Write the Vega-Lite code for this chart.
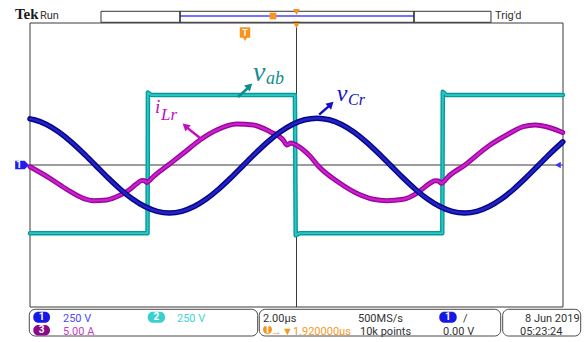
{
  "$schema": "https://vega.github.io/schema/vega-lite/v6.json",
  "width": 533,
  "height": 284,
  "autosize": {"type": "none"},
  "padding": {"left": 30, "top": 23, "right": 24, "bottom": 35},
  "background": "white",
  "config": {"view": {"stroke": null}, "text": {"font": "Roboto"}},
  "datasets": {
    "vab": [
      {"t": -10.0, "v": -1.92}, {"t": -5.59, "v": -1.92}, {"t": -5.575, "v": 2.04}, {"t": -5.45, "v": 1.97},
      {"t": -0.06, "v": 1.97}, {"t": -0.03, "v": -1.98}, {"t": 0.12, "v": -1.92}, {"t": 5.47, "v": -1.92},
      {"t": 5.49, "v": 2.06}, {"t": 5.62, "v": 1.97}, {"t": 10.0, "v": 1.97}
    ],
    "vcr": [
      {"t": -10.0, "v": 1.3}, {"t": -9.841, "v": 1.275}, {"t": -9.38, "v": 1.141}, {"t": -8.919, "v": 0.929},
      {"t": -8.458, "v": 0.653}, {"t": -7.996, "v": 0.331}, {"t": -7.535, "v": -0.015}, {"t": -7.074, "v": -0.361},
      {"t": -6.613, "v": -0.683}, {"t": -6.151, "v": -0.959}, {"t": -5.69, "v": -1.171}, {"t": -5.229, "v": -1.305},
      {"t": -4.768, "v": -1.35}, {"t": -4.306, "v": -1.305}, {"t": -3.845, "v": -1.171}, {"t": -3.384, "v": -0.959},
      {"t": -2.923, "v": -0.683}, {"t": -2.461, "v": -0.361}, {"t": -2.0, "v": -0.015}, {"t": -1.539, "v": 0.331},
      {"t": -1.078, "v": 0.653}, {"t": -0.616, "v": 0.929}, {"t": -0.155, "v": 1.141}, {"t": 0.306, "v": 1.275},
      {"t": 0.768, "v": 1.32}, {"t": 1.229, "v": 1.275}, {"t": 1.69, "v": 1.141}, {"t": 2.151, "v": 0.929},
      {"t": 2.613, "v": 0.653}, {"t": 3.074, "v": 0.331}, {"t": 3.535, "v": -0.015}, {"t": 3.996, "v": -0.361},
      {"t": 4.458, "v": -0.683}, {"t": 4.919, "v": -0.959}, {"t": 5.38, "v": -1.171}, {"t": 5.841, "v": -1.305},
      {"t": 6.303, "v": -1.35}, {"t": 6.764, "v": -1.305}, {"t": 7.225, "v": -1.171}, {"t": 7.686, "v": -0.959},
      {"t": 8.148, "v": -0.683}, {"t": 8.609, "v": -0.361}, {"t": 9.07, "v": -0.015}, {"t": 9.531, "v": 0.331},
      {"t": 9.993, "v": 0.653}
    ],
    "ilr": [
      {"t": -10.0, "v": -0.05}, {"t": -9.25, "v": -0.375}, {"t": -8.62, "v": -0.685}, {"t": -8.0, "v": -0.94},
      {"t": -7.625, "v": -1.006}, {"t": -7.12, "v": -0.986}, {"t": -6.747, "v": -0.893}, {"t": -6.371, "v": -0.752},
      {"t": -5.996, "v": -0.53}, {"t": -5.81, "v": -0.44}, {"t": -5.7, "v": -0.445}, {"t": -5.62, "v": -0.49},
      {"t": -5.52, "v": -0.44}, {"t": -5.373, "v": -0.33}, {"t": -4.81, "v": 0.0}, {"t": -4.248, "v": 0.33},
      {"t": -3.621, "v": 0.704}, {"t": -2.994, "v": 0.986}, {"t": -2.244, "v": 1.155}, {"t": -1.621, "v": 1.127},
      {"t": -0.994, "v": 0.938}, {"t": -0.495, "v": 0.704}, {"t": -0.356, "v": 0.565}, {"t": -0.206, "v": 0.62},
      {"t": -0.02, "v": 0.563}, {"t": 0.507, "v": 0.25}, {"t": 0.818, "v": -0.028}, {"t": 1.632, "v": -0.515},
      {"t": 2.259, "v": -0.797}, {"t": 2.882, "v": -0.966}, {"t": 3.385, "v": -1.006}, {"t": 4.007, "v": -0.966},
      {"t": 4.51, "v": -0.797}, {"t": 5.009, "v": -0.515}, {"t": 5.197, "v": -0.442}, {"t": 5.32, "v": -0.45},
      {"t": 5.448, "v": -0.515}, {"t": 5.55, "v": -0.45}, {"t": 5.636, "v": -0.375}, {"t": 6.323, "v": 0.0},
      {"t": 7.261, "v": 0.563}, {"t": 7.887, "v": 0.845}, {"t": 8.51, "v": 1.08}, {"t": 8.949, "v": 1.127},
      {"t": 9.512, "v": 1.05}, {"t": 9.989, "v": 0.915}
    ],
    "major_t": [{"t": -8}, {"t": -6}, {"t": -4}, {"t": -2}, {"t": 2}, {"t": 4}, {"t": 6}, {"t": 8}],
    "major_v": [{"v": -3}, {"v": -2}, {"v": -1}, {"v": 1}, {"v": 2}, {"v": 3}],
    "minor_t": [
      {"t": -9.6}, {"t": -9.2}, {"t": -8.8}, {"t": -8.4}, {"t": -8}, {"t": -7.6}, {"t": -7.2}, {"t": -6.8},
      {"t": -6.4}, {"t": -6}, {"t": -5.6}, {"t": -5.2}, {"t": -4.8}, {"t": -4.4}, {"t": -4}, {"t": -3.6},
      {"t": -3.2}, {"t": -2.8}, {"t": -2.4}, {"t": -2}, {"t": -1.6}, {"t": -1.2}, {"t": -0.8}, {"t": -0.4},
      {"t": 0}, {"t": 0.4}, {"t": 0.8}, {"t": 1.2}, {"t": 1.6}, {"t": 2}, {"t": 2.4}, {"t": 2.8},
      {"t": 3.2}, {"t": 3.6}, {"t": 4}, {"t": 4.4}, {"t": 4.8}, {"t": 5.2}, {"t": 5.6}, {"t": 6},
      {"t": 6.4}, {"t": 6.8}, {"t": 7.2}, {"t": 7.6}, {"t": 8}, {"t": 8.4}, {"t": 8.8}, {"t": 9.2}, {"t": 9.6}
    ],
    "minor_v": [
      {"v": -3.8}, {"v": -3.6}, {"v": -3.4}, {"v": -3.2}, {"v": -3}, {"v": -2.8}, {"v": -2.6}, {"v": -2.4},
      {"v": -2.2}, {"v": -2}, {"v": -1.8}, {"v": -1.6}, {"v": -1.4}, {"v": -1.2}, {"v": -1}, {"v": -0.8},
      {"v": -0.6}, {"v": -0.4}, {"v": -0.2}, {"v": 0}, {"v": 0.2}, {"v": 0.4}, {"v": 0.6}, {"v": 0.8},
      {"v": 1}, {"v": 1.2}, {"v": 1.4}, {"v": 1.6}, {"v": 1.8}, {"v": 2}, {"v": 2.2}, {"v": 2.4},
      {"v": 2.6}, {"v": 2.8}, {"v": 3}, {"v": 3.2}, {"v": 3.4}, {"v": 3.6}, {"v": 3.8}
    ],
    "readout": [
      {"t": -9.625, "v": 4.113, "s": "Run", "ch": "info"},
      {"t": 7.448, "v": 4.099, "s": "Trig'd", "ch": "info"},
      {"t": -8.762, "v": -4.423, "s": "250 V", "ch": "ch1"},
      {"t": -4.484, "v": -4.423, "s": "250 V", "ch": "ch2"},
      {"t": -8.762, "v": -4.789, "s": "5.00 A", "ch": "ch3"},
      {"t": -1.257, "v": -4.423, "s": "2.00µs", "ch": "info"},
      {"t": -0.957, "v": -4.789, "s": "→▼1.920000µs", "ch": "trig"},
      {"t": 2.308, "v": -4.423, "s": "500MS/s", "ch": "info"},
      {"t": 2.383, "v": -4.789, "s": "10k points", "ch": "info"},
      {"t": 6.248, "v": -4.423, "s": "/", "ch": "info"},
      {"t": 5.497, "v": -4.789, "s": "0.00 V", "ch": "info"},
      {"t": 8.574, "v": -4.423, "s": "8 Jun  2019", "ch": "info"},
      {"t": 8.386, "v": -4.789, "s": "05:23:24", "ch": "info"}
    ],
    "badges": [
      {"t": -9.876, "t2": -9.25, "v": -4.132, "v2": -4.442, "tm": -9.563, "vm": -4.287, "ch": "ch1", "s": "1"},
      {"t": -5.583, "t2": -4.934, "v": -4.132, "v2": -4.442, "tm": -5.2585, "vm": -4.287, "ch": "ch2", "s": "2"},
      {"t": -9.876, "t2": -9.25, "v": -4.507, "v2": -4.803, "tm": -9.563, "vm": -4.655, "ch": "ch3", "s": "3"},
      {"t": 5.358, "t2": 6.011, "v": -4.132, "v2": -4.442, "tm": 5.6845, "vm": -4.287, "ch": "ch1", "s": "1"},
      {"t": -1.257, "t2": -0.92, "v": -4.507, "v2": -4.761, "tm": -1.0885, "vm": -4.634, "ch": "trig", "s": "T"}
    ]
  },
  "encoding": {
    "x": {"field": "t", "type": "quantitative", "scale": {"domain": [-10, 10], "nice": false, "zero": false}, "axis": null},
    "y": {"field": "v", "type": "quantitative", "scale": {"domain": [-4, 4], "nice": false, "zero": false}, "axis": null}
  },
  "layer": [
    {
      "data": {"values": [{"t": -10, "v": -4, "t2": 10, "v2": 4}]},
      "mark": {"type": "rect", "filled": false, "stroke": "#3a3a3a", "strokeWidth": 1},
      "encoding": {"x2": {"field": "t2"}, "y2": {"field": "v2"}}
    },
    {
      "data": {"name": "major_t"},
      "mark": {"type": "rule", "stroke": "#777777", "strokeWidth": 1, "strokeDash": [1, 6.1]},
      "encoding": {"y": {"datum": 4}, "y2": {"datum": -4}}
    },
    {
      "data": {"name": "major_v"},
      "mark": {"type": "rule", "stroke": "#777777", "strokeWidth": 1, "strokeDash": [1, 9.66]},
      "encoding": {"x": {"datum": -10}, "x2": {"datum": 10}}
    },
    {
      "data": {"values": [{"t": 0, "v": -4, "t2": 0, "v2": 4}, {"t": -10, "v": 0, "t2": 10, "v2": 0}]},
      "mark": {"type": "rule", "stroke": "#3a3a3a", "strokeWidth": 1},
      "encoding": {"x2": {"field": "t2"}, "y2": {"field": "v2"}}
    },
    {
      "data": {"name": "minor_t"},
      "mark": {"type": "rule", "stroke": "#3a3a3a", "strokeWidth": 1},
      "encoding": {"y": {"datum": 4}, "y2": {"datum": 3.915}}
    },
    {
      "data": {"name": "minor_t"},
      "mark": {"type": "rule", "stroke": "#3a3a3a", "strokeWidth": 1},
      "encoding": {"y": {"datum": -4}, "y2": {"datum": -3.915}}
    },
    {
      "data": {"name": "minor_t"},
      "mark": {"type": "rule", "stroke": "#3a3a3a", "strokeWidth": 1},
      "encoding": {"y": {"datum": -0.085}, "y2": {"datum": 0.085}}
    },
    {
      "data": {"name": "minor_v"},
      "mark": {"type": "rule", "stroke": "#3a3a3a", "strokeWidth": 1},
      "encoding": {"x": {"datum": -10}, "x2": {"datum": -9.887}}
    },
    {
      "data": {"name": "minor_v"},
      "mark": {"type": "rule", "stroke": "#3a3a3a", "strokeWidth": 1},
      "encoding": {"x": {"datum": 10}, "x2": {"datum": 9.887}}
    },
    {
      "data": {"name": "minor_v"},
      "mark": {"type": "rule", "stroke": "#3a3a3a", "strokeWidth": 1},
      "encoding": {"x": {"datum": -0.113}, "x2": {"datum": 0.113}}
    },
    {
      "data": {"name": "vab"},
      "mark": {"type": "line", "stroke": "#039a9a", "strokeWidth": 4.5, "strokeJoin": "round", "strokeCap": "round"}
    },
    {
      "data": {"name": "vab"},
      "mark": {"type": "line", "stroke": "#2cc6c6", "strokeWidth": 1.8, "strokeJoin": "round", "strokeCap": "round"}
    },
    {
      "data": {"name": "ilr"},
      "mark": {"type": "line", "interpolate": "monotone", "stroke": "#9a069f", "strokeWidth": 5, "strokeJoin": "round", "strokeCap": "round"}
    },
    {
      "data": {"name": "ilr"},
      "mark": {"type": "line", "interpolate": "monotone", "stroke": "#cc22cc", "strokeWidth": 2.2, "strokeJoin": "round", "strokeCap": "round"}
    },
    {
      "data": {"name": "vcr"},
      "mark": {"type": "line", "interpolate": "monotone", "stroke": "#06068a", "strokeWidth": 5.5, "strokeJoin": "round", "strokeCap": "round"}
    },
    {
      "data": {"name": "vcr"},
      "mark": {"type": "line", "interpolate": "monotone", "stroke": "#2323c6", "strokeWidth": 2.5, "strokeJoin": "round", "strokeCap": "round"}
    },
    {
      "data": {"values": [{"t": -2.195, "v": 1.915, "t2": -1.79, "v2": 2.19}]},
      "mark": {"type": "rule", "stroke": "#108c8c", "strokeWidth": 2.5},
      "encoding": {"x2": {"field": "t2"}, "y2": {"field": "v2"}}
    },
    {
      "data": {"values": [{"t": -1.76, "v": 2.225}]},
      "mark": {"type": "point", "shape": "triangle-up", "angle": 47, "size": 70, "filled": true, "color": "#108c8c", "opacity": 1}
    },
    {
      "data": {"values": [{"t": -3.62, "v": 0.76, "t2": -4.12, "v2": 1.06}]},
      "mark": {"type": "rule", "stroke": "#c010c0", "strokeWidth": 2.5},
      "encoding": {"x2": {"field": "t2"}, "y2": {"field": "v2"}}
    },
    {
      "data": {"values": [{"t": -4.17, "v": 1.1}]},
      "mark": {"type": "point", "shape": "triangle-up", "angle": 311, "size": 70, "filled": true, "color": "#c010c0", "opacity": 1}
    },
    {
      "data": {"values": [{"t": 0.85, "v": 1.42, "t2": 1.25, "v2": 1.68}]},
      "mark": {"type": "rule", "stroke": "#1010c4", "strokeWidth": 2.5},
      "encoding": {"x2": {"field": "t2"}, "y2": {"field": "v2"}}
    },
    {
      "data": {"values": [{"t": 1.29, "v": 1.71}]},
      "mark": {"type": "point", "shape": "triangle-up", "angle": 47, "size": 70, "filled": true, "color": "#1010c4", "opacity": 1}
    },
    {
      "data": {"values": [{"t": -1.632, "v": 2.366, "s": "v"}]},
      "mark": {"type": "text", "font": "Liberation Serif", "fontStyle": "italic", "fontSize": 28, "align": "left", "baseline": "alphabetic", "color": "#138d8d"},
      "encoding": {"text": {"field": "s"}}
    },
    {
      "data": {"values": [{"t": -1.144, "v": 2.282, "s": "ab"}]},
      "mark": {"type": "text", "font": "Liberation Serif", "fontStyle": "italic", "fontSize": 18, "align": "left", "baseline": "alphabetic", "color": "#138d8d"},
      "encoding": {"text": {"field": "s"}}
    },
    {
      "data": {"values": [{"t": -5.31, "v": 1.456, "s": "i"}]},
      "mark": {"type": "text", "font": "Liberation Serif", "fontStyle": "italic", "fontSize": 19, "align": "left", "baseline": "alphabetic", "color": "#c010c0"},
      "encoding": {"text": {"field": "s"}}
    },
    {
      "data": {"values": [{"t": -5.08, "v": 1.268, "s": "Lr"}]},
      "mark": {"type": "text", "font": "Liberation Serif", "fontStyle": "italic", "fontSize": 17, "align": "left", "baseline": "alphabetic", "color": "#c010c0"},
      "encoding": {"text": {"field": "s"}}
    },
    {
      "data": {"values": [{"t": 1.514, "v": 1.811, "s": "v"}]},
      "mark": {"type": "text", "font": "Liberation Serif", "fontStyle": "italic", "fontSize": 24, "align": "left", "baseline": "alphabetic", "color": "#1010c4"},
      "encoding": {"text": {"field": "s"}}
    },
    {
      "data": {"values": [{"t": 1.932, "v": 1.69, "s": "Cr"}]},
      "mark": {"type": "text", "font": "Liberation Serif", "fontStyle": "italic", "fontSize": 16, "align": "left", "baseline": "alphabetic", "color": "#1010c4"},
      "encoding": {"text": {"field": "s"}}
    },
    {
      "data": {"values": [{"t": -10.3, "v": 0}]},
      "mark": {"type": "point", "shape": "M-1,-0.62L0.4,-0.62L1,0L0.4,0.62L-1,0.62Z", "size": 185, "filled": true, "color": "#1f1ff0", "opacity": 1}
    },
    {
      "data": {"values": [{"t": -10.42, "v": 0, "s": "1"}]},
      "mark": {"type": "text", "fontSize": 10, "fontWeight": "bold", "align": "center", "baseline": "middle", "color": "white"},
      "encoding": {"text": {"field": "s"}}
    },
    {
      "data": {"values": [{"t": 9.812, "v": 0}]},
      "mark": {"type": "point", "shape": "triangle-left", "size": 40, "filled": true, "color": "#3434ff", "opacity": 1}
    },
    {
      "data": {"values": [{"t": -1.932, "v": 3.56}]},
      "mark": {"type": "point", "shape": "triangle-down", "size": 30, "filled": true, "color": "#f7941d", "opacity": 1}
    },
    {
      "data": {"values": [{"t": -1.932, "v": 3.732}]},
      "mark": {"type": "point", "shape": "square", "size": 110, "filled": true, "color": "#f7941d", "opacity": 1}
    },
    {
      "data": {"values": [{"t": -1.932, "v": 3.732, "s": "T"}]},
      "mark": {"type": "text", "fontSize": 9, "fontWeight": "bold", "align": "center", "baseline": "middle", "color": "white"},
      "encoding": {"text": {"field": "s"}}
    },
    {
      "data": {"values": [{"t": 0, "v": 3.95}]},
      "mark": {"type": "point", "shape": "triangle-down", "size": 60, "filled": true, "color": "#f7941d", "opacity": 1}
    },
    {
      "data": {"values": [{"t": -7.336, "v": 4.02, "t2": 7.298, "v2": 4.33}]},
      "mark": {"type": "rect", "filled": false, "stroke": "#333333", "strokeWidth": 1},
      "encoding": {"x2": {"field": "t2"}, "y2": {"field": "v2"}}
    },
    {
      "data": {"values": [{"t": -4.371, "v": 4.197, "t2": 4.409, "v2": 4.197}]},
      "mark": {"type": "rule", "stroke": "#4545ff", "strokeWidth": 1.5},
      "encoding": {"x2": {"field": "t2"}, "y2": {"field": "v2"}}
    },
    {
      "data": {"values": [{"t": -4.371, "v": 4.02, "t2": -4.371, "v2": 4.33}, {"t": 4.409, "v": 4.02, "t2": 4.409, "v2": 4.33}]},
      "mark": {"type": "rule", "stroke": "#222222", "strokeWidth": 1.5},
      "encoding": {"x2": {"field": "t2"}, "y2": {"field": "v2"}}
    },
    {
      "data": {"values": [{"t": -0.882, "v": 4.197}]},
      "mark": {"type": "point", "shape": "square", "size": 45, "filled": true, "color": "#f7941d", "opacity": 1}
    },
    {
      "data": {"values": [{"t": 0, "v": 4.31}]},
      "mark": {"type": "point", "shape": "triangle-down", "size": 45, "filled": true, "color": "#f7941d", "opacity": 1}
    },
    {
      "data": {"values": [{"t": -10.563, "v": 4.113, "s": "Tek"}]},
      "mark": {"type": "text", "font": "Liberation Serif", "fontWeight": "bold", "fontSize": 15, "align": "left", "baseline": "alphabetic", "color": "#1a1a1a"},
      "encoding": {"text": {"field": "s"}}
    },
    {
      "data": {"values": [
        {"t": -10.026, "t2": -1.456, "v": -4.065, "v2": -4.817},
        {"t": -1.396, "t2": 7.662, "v": -4.065, "v2": -4.817},
        {"t": 7.737, "t2": 10.664, "v": -4.065, "v2": -4.817}
      ]},
      "mark": {"type": "rect", "filled": false, "stroke": "#4a4a4a", "strokeWidth": 1, "cornerRadius": 6},
      "encoding": {"x2": {"field": "t2"}, "y2": {"field": "v2"}}
    },
    {
      "data": {"name": "badges"},
      "mark": {"type": "rect", "cornerRadius": 5},
      "encoding": {
        "x2": {"field": "t2"},
        "y2": {"field": "v2"},
        "fill": {"field": "ch", "type": "nominal", "legend": null,
          "scale": {"domain": ["ch1", "ch2", "ch3", "trig"], "range": ["#1717e6", "#3ccfcf", "#8a0a8a", "#f7941d"]}}
      }
    },
    {
      "data": {"name": "badges"},
      "mark": {"type": "text", "fontSize": 10, "fontWeight": "bold", "align": "center", "baseline": "middle", "color": "white"},
      "encoding": {
        "x": {"field": "tm", "type": "quantitative"},
        "y": {"field": "vm", "type": "quantitative"},
        "text": {"field": "s"}
      }
    },
    {
      "data": {"name": "readout"},
      "mark": {"type": "text", "fontSize": 11, "align": "left", "baseline": "alphabetic"},
      "encoding": {
        "text": {"field": "s"},
        "color": {"field": "ch", "type": "nominal", "legend": null,
          "scale": {"domain": ["ch1", "ch2", "ch3", "trig", "info"], "range": ["#4b4bf2", "#3fd3d3", "#c43ec4", "#f39a1e", "#333333"]}}
      }
    }
  ]
}
